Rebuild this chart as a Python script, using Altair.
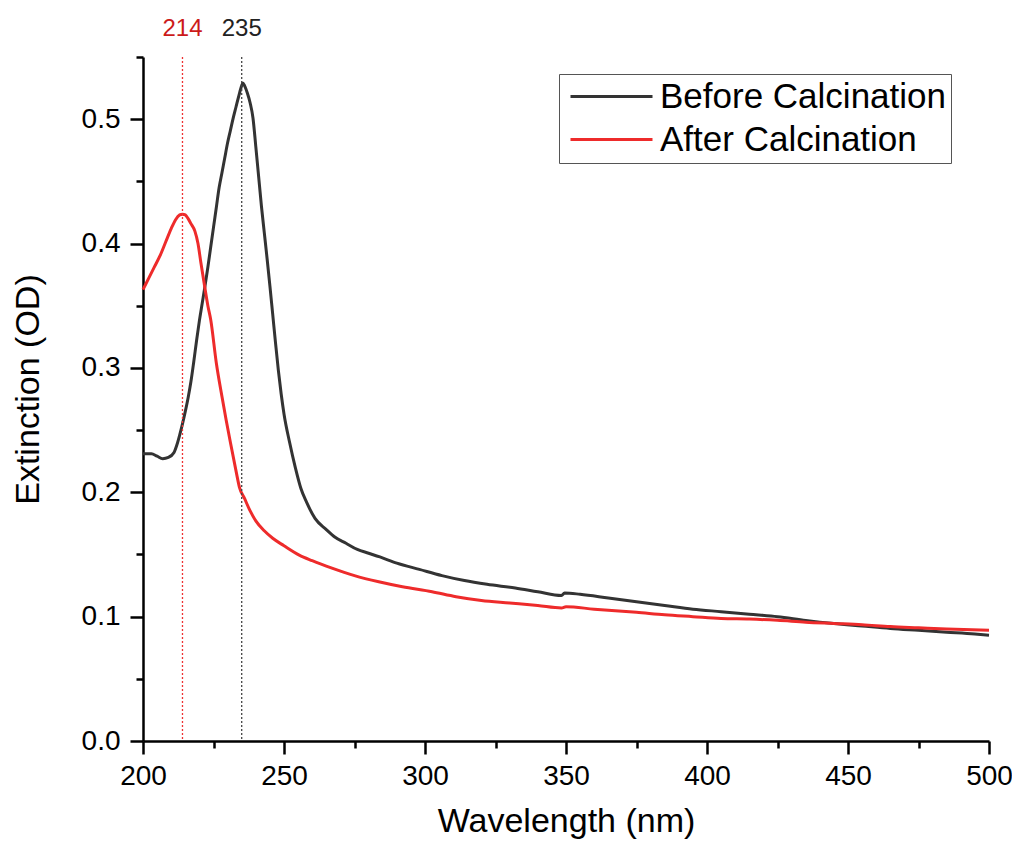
import altair as alt
import pandas as pd

# ---- data ----
before_wl = [200, 203, 205, 207, 209, 211, 212, 213, 214, 215, 216, 217, 218, 219, 220,
             221, 222, 223, 224, 225, 226, 227, 228, 229, 230, 231, 232, 233, 234, 235,
             235.4, 236, 237, 238, 239, 240, 241, 242, 243, 244, 245, 246, 247, 248, 249,
             250, 252, 254, 256, 258, 261, 265, 268, 272, 276, 280, 284, 290, 298, 306,
             314, 322, 332, 340, 348.4, 349.5, 355, 365, 375, 385, 395, 405, 415, 425,
             435, 445, 455, 465, 475, 485, 495, 500]
before_od = [0.231, 0.231, 0.229, 0.227, 0.228, 0.232, 0.238, 0.246, 0.255, 0.265, 0.276, 0.289,
             0.305, 0.322, 0.338, 0.352, 0.366, 0.381, 0.397, 0.413, 0.429, 0.445, 0.457,
             0.469, 0.481, 0.491, 0.501, 0.510, 0.519, 0.527, 0.529, 0.527, 0.521, 0.513,
             0.501, 0.478, 0.454, 0.430, 0.409, 0.388, 0.366, 0.343, 0.320, 0.298, 0.279,
             0.263, 0.240, 0.220, 0.203, 0.192, 0.179, 0.170, 0.164, 0.159, 0.154, 0.151,
             0.148, 0.143, 0.138, 0.133, 0.129, 0.126, 0.123, 0.120, 0.117, 0.119, 0.118,
             0.115, 0.112, 0.109, 0.106, 0.104, 0.102, 0.100, 0.097, 0.0945, 0.0925, 0.0905,
             0.089, 0.0875, 0.086, 0.085]

after_wl = [200, 202, 204, 206, 208, 210, 211.5, 213, 214, 215, 216, 217, 218.4, 219.5,
            220.5, 221.9, 223, 224, 226, 228, 229.5, 231, 233, 234.2, 236, 238, 240, 243,
            246, 250, 255.4, 260, 267, 275, 283.6, 292, 302.5, 311, 320, 330, 340, 348.4,
            350, 360, 375, 385, 395, 405, 415, 425, 435, 445, 455, 465, 475, 485, 500]
after_od = [0.363, 0.372, 0.381, 0.390, 0.401, 0.412, 0.419, 0.423, 0.4236, 0.423, 0.420,
            0.416, 0.410, 0.400, 0.385, 0.365, 0.350, 0.339, 0.304, 0.277, 0.258, 0.240,
            0.217, 0.204, 0.195, 0.185, 0.177, 0.169, 0.163, 0.157, 0.1495, 0.145, 0.139,
            0.133, 0.128, 0.124, 0.120, 0.116, 0.113, 0.111, 0.109, 0.107, 0.108, 0.106,
            0.1035, 0.1015, 0.100, 0.0985, 0.098, 0.097, 0.0955, 0.0945, 0.0935, 0.092,
            0.091, 0.090, 0.089]

series_names = ["Before Calcination", "After Calcination"]
series_colors = ["#333333", "#ee2b2b"]

peak_wl = [214, 235]
peak_labels = ["214", "235"]
peak_line_colors = ["#ee3333", "#444444"]
peak_text_colors = ["#cc1a1a", "#222222"]

x_ticks = [200, 225, 250, 275, 300, 325, 350, 375, 400, 425, 450, 475, 500]
y_ticks = [0.0, 0.05, 0.1, 0.15, 0.2, 0.25, 0.3, 0.35, 0.4, 0.45, 0.5, 0.55]

# ---- tables ----
df = pd.concat([
    pd.DataFrame({"wavelength": before_wl, "od": before_od, "series": series_names[0]}),
    pd.DataFrame({"wavelength": after_wl, "od": after_od, "series": series_names[1]}),
], ignore_index=True)
peaks = pd.DataFrame({"wavelength": peak_wl, "label": peak_labels,
                      "lcolor": peak_line_colors, "tcolor": peak_text_colors,
                      "od": [y_ticks[-1]] * len(peak_wl)})

x_scale = alt.Scale(domain=[200, 500], nice=False, zero=False)
y_scale = alt.Scale(domain=[0, 0.55], nice=False)

x_axis = alt.Axis(
    values=x_ticks, title="Wavelength (nm)", labelFlush=False,
    labelExpr="datum.value % 50 === 0 ? datum.label : ''",
    tickSize={"condition": {"test": "datum.value % 50 === 0", "value": 13}, "value": 7},
    labelPadding=8, titlePadding=14,
)
y_axis = alt.Axis(
    values=y_ticks, title="Extinction (OD)", labelFlush=False,
    labelExpr="round(datum.value*100) % 10 === 0 ? format(datum.value, '.1f') : ''",
    tickSize={"condition": {"test": "round(datum.value*100) % 10 === 0", "value": 13}, "value": 7},
    labelPadding=10, titlePadding=36, titleY=332,
)

lines = alt.Chart(df).mark_line(strokeWidth=3, interpolate="monotone").encode(
    x=alt.X("wavelength:Q", scale=x_scale, axis=x_axis),
    y=alt.Y("od:Q", scale=y_scale, axis=y_axis),
    color=alt.Color(
        "series:N",
        scale=alt.Scale(domain=series_names, range=series_colors),
        legend=alt.Legend(
            title=None, orient="none", legendX=416, legendY=17,
            symbolType="M-3,0H3", symbolSize=747, symbolStrokeWidth=3,
            labelFontSize=35, labelFont="Liberation Sans", labelColor="black",
            labelLimit=0, strokeColor="#555555", fillColor="white",
            padding=5, rowPadding=7, symbolOffset=30, labelOffset=31,
        ),
    ),
)

rules = alt.Chart(peaks).mark_rule(strokeDash=[2, 2], strokeWidth=1.3).encode(
    x=alt.X("wavelength:Q", scale=x_scale, axis=x_axis),
    color=alt.Color("lcolor:N", scale=None),
)

texts = alt.Chart(peaks).mark_text(fontSize=24, font="Liberation Sans",
                                   baseline="alphabetic", dy=-21).encode(
    x=alt.X("wavelength:Q", scale=x_scale, axis=x_axis),
    y=alt.Y("od:Q", scale=y_scale, axis=y_axis),
    text="label:N",
    color=alt.Color("tcolor:N", scale=None),
)

chart = alt.layer(lines, rules, texts).properties(
    width=846, height=684, autosize="none",
    padding={"left": 135, "top": 49, "right": 23, "bottom": 99},
    background="white",
).configure_view(stroke=None).configure_axis(
    grid=False, labelFont="Liberation Sans", titleFont="Liberation Sans",
    labelFontSize=28, titleFontSize=34, titleFontWeight="normal",
    labelColor="black", titleColor="black", domainColor="black", tickColor="black",
    domainWidth=2.5, tickWidth=2.5,
)

chart.save("out.html", embed_options={"renderer": "svg", "actions": False})
